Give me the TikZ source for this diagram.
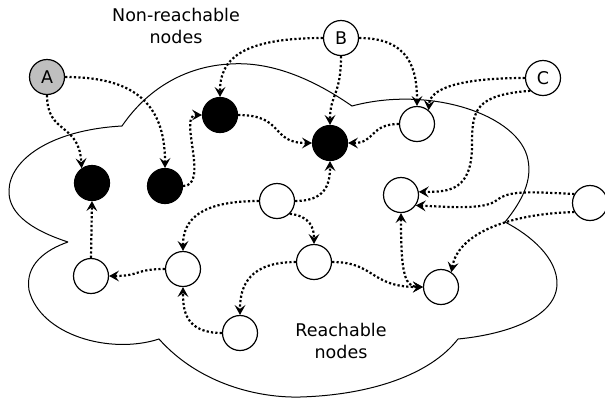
\documentclass[tikz,border=0pt]{standalone}
\usepackage{fontspec}
\setmainfont{DejaVu Sans}
\usetikzlibrary{arrows.meta}
\tikzset{
  nd/.style={circle, draw, line width=1.2pt, minimum size=35pt, inner sep=0pt, font=\fontsize{17.5}{20}\selectfont},
  wn/.style={nd, fill=white},
  bn/.style={nd, fill=black},
  gn/.style={nd, fill=gray!50},
  tip/.tip={Stealth[length=10pt,width=11pt,inset=4pt,line width=0pt]},
  lnk/.style={line width=2.2pt, dash pattern=on 2.2pt off 2.2pt, -tip},
  blnk/.style={line width=2.2pt, dash pattern=on 2.2pt off 2.2pt, tip-tip},
  lbl/.style={font=\fontsize{17.5}{22}\selectfont, align=center, inner sep=0pt},
  cloud/.style={draw, line width=1pt}
}
\begin{document}
\begin{tikzpicture}[x=1pt,y=-1pt]
\useasboundingbox (0,0) rectangle (605,400);
% cloud outline
\draw[cloud] (68,242) .. controls (25,228) and (8,210) .. (9,190)
  .. controls (10,160) and (50,130) .. (122,126)
  .. controls (150,85) and (190,66) .. (230,64)
  .. controls (260,62) and (300,70) .. (352,106)
  .. controls (430,85) and (520,115) .. (528,160)
  .. controls (532,180) and (523,200) .. (505,222)
  .. controls (530,235) and (558,258) .. (557,285)
  .. controls (555,320) and (500,335) .. (458,339)
  .. controls (430,375) and (370,395) .. (300,397)
  .. controls (260,398) and (200,385) .. (159,339)
  .. controls (110,355) and (40,335) .. (29,290)
  .. controls (25,265) and (45,250) .. (68,242);
% labels
\node[lbl] (t1) at (176,26) {Non-reachable\\nodes};
\node[lbl] (t2) at (341,341) {Reachable\\nodes};
% nodes
\node[gn] (a) at (47,77) {A};
\node[wn] (b) at (341,38) {B};
\node[wn] (c) at (543,78) {C};
\node[bn] (b1) at (92,183) {};
\node[bn] (b2) at (165,186) {};
\node[bn] (b3) at (220,115) {};
\node[bn] (b4) at (330,143) {};
\node[wn] (w1) at (417,124) {};
\node[wn] (w2) at (277,201) {};
\node[wn] (w3) at (183,269) {};
\node[wn] (w4) at (314,262) {};
\node[wn] (w5) at (401,195) {};
\node[wn] (w6) at (441,287) {};
\node[wn] (w7) at (590,203) {};
\node[wn] (w8) at (91,276) {};
\node[wn] (w9) at (240,333) {};
% connectors
\draw[lnk] (a.south) .. controls (47,135) and (79,122) .. (b1.125);
\draw[lnk] (a.east) .. controls (130,77) and (165,100) .. (b2.north);
\draw[lnk] (b2.east) .. controls (210,186) and (178,115) .. (b3.west);
\draw[lnk] (b3.east) .. controls (285,115) and (270,143) .. (b4.west);
\draw[lnk] (b.west) .. controls (240,38) and (220,60) .. (b3.north);
\draw[lnk] (b.south) .. controls (341,95) and (330,95) .. (b4.north);
\draw[lnk] (b.east) .. controls (410,38) and (417,70) .. (w1.north);
\draw[lnk] (c.west) .. controls (455,78) and (430,90) .. (w1.50);
\draw[lnk] (c.225) .. controls (475,95) and (472,110) .. (472,145)
  .. controls (472,190) and (450,192) .. (w5.10);
\draw[lnk] (w7.150) .. controls (530,192) and (510,190) .. (497,200)
  .. controls (485,210) and (450,207) .. (w5.-35);
\draw[lnk] (w7.210) .. controls (505,214) and (458,235) .. (w6.55);
\draw[blnk] (w5.south) .. controls (401,265) and (403,287) .. (w6.west);
\draw[lnk] (w4.east) .. controls (375,262) and (370,287) .. (w6.west);
\draw[lnk] (w2.east) .. controls (325,201) and (330,185) .. (b4.south);
\draw[lnk] (w1.west) .. controls (370,124) and (375,143) .. (b4.east);
\draw[lnk] (w2.west) .. controls (200,201) and (183,220) .. (w3.north);
\draw[lnk] (w2.-45) .. controls (310,216) and (314,228) .. (w4.north);
\draw[lnk] (w3.west) .. controls (135,269) and (140,276) .. (w8.east);
\draw[lnk] (w8.north) -- (b1.south);
\draw[lnk] (w9.west) .. controls (185,333) and (183,310) .. (w3.south);
\draw[lnk] (w4.west) .. controls (250,262) and (240,285) .. (w9.north);
\end{tikzpicture}
\end{document}
